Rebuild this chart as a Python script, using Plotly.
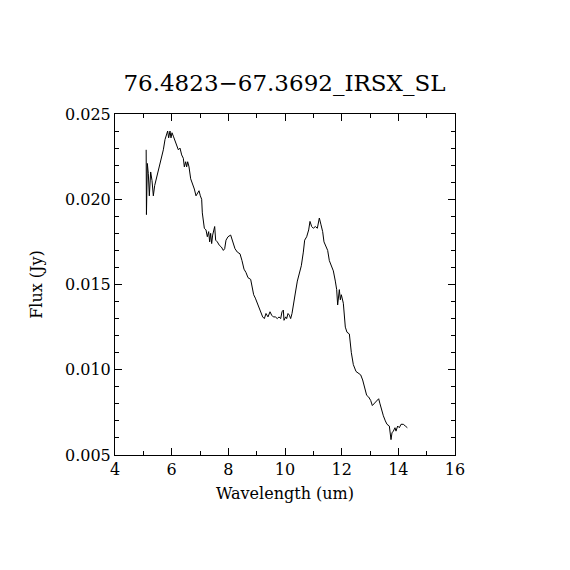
import plotly.graph_objects as go

# spectrum
wavelength = [
    5.100, 5.110, 5.141, 5.176, 5.212, 5.259, 5.306, 5.353, 5.400, 5.471,
    5.529, 5.588, 5.647, 5.706, 5.765, 5.824, 5.859, 5.894, 5.941, 5.976,
    6.012, 6.059, 6.118, 6.176, 6.235, 6.294, 6.353, 6.412, 6.447, 6.494,
    6.529, 6.565, 6.612, 6.671, 6.741, 6.800, 6.859, 6.918, 6.965, 7.012,
    7.059, 7.082, 7.118, 7.153, 7.212, 7.259, 7.306, 7.341, 7.376, 7.412,
    7.447, 7.482, 7.518, 7.553, 7.612, 7.682, 7.753, 7.824, 7.871, 7.918,
    7.988, 8.082, 8.153, 8.235, 8.318, 8.412, 8.482, 8.553, 8.624, 8.694,
    8.788, 8.847, 8.894, 8.953, 9.024, 9.094, 9.141, 9.212, 9.271, 9.329,
    9.400, 9.471, 9.529, 9.588, 9.659, 9.729, 9.788, 9.847, 9.894, 9.941,
    9.965, 10.024, 10.059, 10.106, 10.153, 10.200, 10.247, 10.294, 10.365, 10.435,
    10.506, 10.576, 10.647, 10.694, 10.765, 10.835, 10.882, 10.941, 11.000, 11.071,
    11.141, 11.212, 11.271, 11.329, 11.376, 11.447, 11.506, 11.565, 11.635, 11.706,
    11.776, 11.824, 11.859, 11.918, 11.953, 11.988, 12.059, 12.129, 12.188, 12.271,
    12.341, 12.412, 12.506, 12.600, 12.671, 12.741, 12.812, 12.882, 12.953, 13.024,
    13.082, 13.141, 13.212, 13.259, 13.306, 13.353, 13.412, 13.471, 13.541, 13.600,
    13.682, 13.741, 13.776, 13.824, 13.882, 13.918, 13.976, 14.035, 14.094, 14.176,
    14.247, 14.318,
]
flux = [
    0.0229, 0.0191, 0.0221, 0.0215, 0.0202, 0.0216, 0.0211, 0.0202, 0.0208, 0.0213,
    0.0216, 0.0220, 0.0224, 0.0229, 0.0235, 0.0238, 0.0240, 0.0236, 0.0240, 0.0236,
    0.0239, 0.0237, 0.0234, 0.0231, 0.0229, 0.0230, 0.0226, 0.0224, 0.0219, 0.0222,
    0.0219, 0.0222, 0.0219, 0.0212, 0.0209, 0.0206, 0.0202, 0.0204, 0.0205, 0.0202,
    0.0200, 0.0192, 0.0186, 0.0183, 0.0182, 0.0178, 0.0181, 0.0175, 0.0180, 0.0174,
    0.0179, 0.0181, 0.0184, 0.0176, 0.0175, 0.0173, 0.0172, 0.0170, 0.0171, 0.0176,
    0.0178, 0.0179, 0.0175, 0.0171, 0.0169, 0.0168, 0.0164, 0.0159, 0.0157, 0.0154,
    0.0153, 0.0149, 0.0144, 0.0142, 0.0139, 0.0136, 0.0133, 0.0131, 0.0130, 0.0133,
    0.0131, 0.0134, 0.0132, 0.0131, 0.0131, 0.0130, 0.0131, 0.0130, 0.0134, 0.0135,
    0.0129, 0.0131, 0.0130, 0.0133, 0.0132, 0.0130, 0.0133, 0.0139, 0.0145, 0.0152,
    0.0157, 0.0161, 0.0169, 0.0176, 0.0178, 0.0182, 0.0187, 0.0184, 0.0183, 0.0184,
    0.0183, 0.0189, 0.0185, 0.0181, 0.0175, 0.0172, 0.0170, 0.0164, 0.0161, 0.0158,
    0.0152, 0.0147, 0.0138, 0.0147, 0.0141, 0.0144, 0.0139, 0.0125, 0.0122, 0.0121,
    0.0110, 0.0103, 0.0099, 0.0098, 0.0097, 0.0094, 0.0090, 0.0085, 0.0084, 0.0082,
    0.0079, 0.0080, 0.0081, 0.0082, 0.0083, 0.0080, 0.0076, 0.0073, 0.0070, 0.0068,
    0.0067, 0.0059, 0.0063, 0.0064, 0.0066, 0.0064, 0.0067, 0.0066, 0.0068, 0.0068,
    0.0067, 0.0066,
]

title = "76.4823\u221267.3692_IRSX_SL"
font = "DejaVu Serif"

fig = go.Figure()
fig.add_trace(go.Scatter(
    x=wavelength, y=flux, mode="lines",
    line=dict(color="black", width=1),
    showlegend=False,
))

axis_common = dict(
    showgrid=False, zeroline=False,
    showline=True, linecolor="black", linewidth=1, mirror="allticks",
    ticks="inside", ticklen=7, tickwidth=1, tickcolor="black",
    tickfont=dict(family=font, size=16, color="black"),
)

fig.update_xaxes(
    range=[4, 16], dtick=2, tick0=4,
    minor=dict(dtick=1, ticks="inside", ticklen=4, tickcolor="black", showgrid=False),
    title=dict(text="Wavelength (um)", font=dict(family=font, size=16, color="black"), standoff=9),
    **axis_common,
)
fig.update_yaxes(
    range=[0.005, 0.025], dtick=0.005, tick0=0.005, tickformat=".3f",
    minor=dict(dtick=0.001, ticks="inside", ticklen=4, tickcolor="black", showgrid=False),
    title=dict(text="Flux (Jy)", font=dict(family=font, size=16, color="black"), standoff=18),
    **axis_common,
)

fig.update_layout(
    width=570, height=570,
    margin=dict(l=107, r=123, t=106, b=123),
    paper_bgcolor="white", plot_bgcolor="white",
    title=dict(text=title, x=0.485, xanchor="center", y=0.868, yanchor="middle",
               font=dict(family=font, size=23, color="black")),
)

fig.write_html("out.html")
